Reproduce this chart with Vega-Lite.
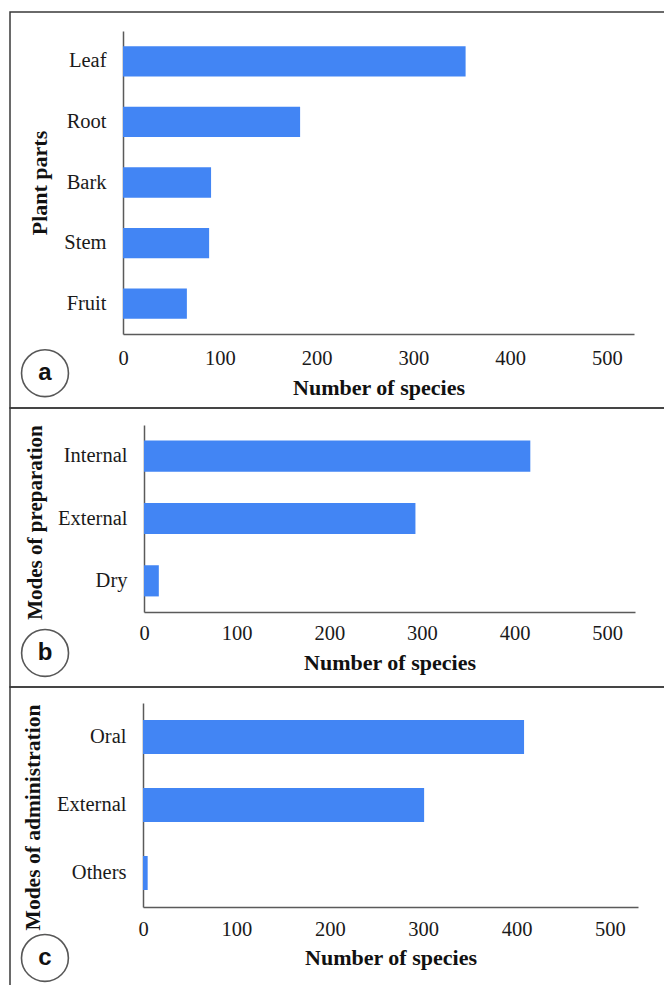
{
  "$schema": "https://vega.github.io/schema/vega-lite/v6.json",
  "padding": {"left": 9, "top": 11, "right": 0, "bottom": 0},
  "spacing": 0,
  "bounds": "flush",
  "background": "white",
  "datasets": {
    "parts": [
      {"part": "Leaf", "species": 354},
      {"part": "Root", "species": 183},
      {"part": "Bark", "species": 91},
      {"part": "Stem", "species": 89},
      {"part": "Fruit", "species": 66}
    ],
    "prep": [
      {"mode": "Internal", "species": 417},
      {"mode": "External", "species": 293},
      {"mode": "Dry", "species": 16}
    ],
    "admin": [
      {"mode": "Oral", "species": 408},
      {"mode": "External", "species": 301},
      {"mode": "Others", "species": 5}
    ],
    "tags": [{"panel": "a"}, {"panel": "b"}, {"panel": "c"}]
  },
  "config": {
    "font": "Liberation Serif",
    "axis": {
      "grid": false,
      "ticks": false,
      "tickSize": 0,
      "labelFlush": false,
      "domainColor": "#5a5a5a",
      "domainWidth": 1.5,
      "labelFont": "Liberation Serif",
      "labelFontSize": 20.5,
      "labelColor": "#1a1a1a",
      "titleFont": "Liberation Serif",
      "titleFontWeight": "bold",
      "titleFontSize": 22,
      "titleColor": "#111111"
    },
    "view": {"stroke": "#3a3a3a", "strokeWidth": 1.5}
  },
  "vconcat": [
    {
      "width": 656,
      "height": 396,
      "view": {"stroke": "#3a3a3a", "strokeWidth": 1.5},
      "layer": [
        {
          "data": {"name": "parts"},
          "mark": {"type": "bar", "color": "#4285F4"},
          "encoding": {
            "y": {"field": "part", "type": "nominal", "sort": ["Leaf", "Root", "Bark", "Stem", "Fruit"],
              "scale": {"range": [19, 322], "paddingInner": 0.5, "paddingOuter": 0.25},
              "axis": {"title": "Plant parts", "offset": -113, "labelPadding": 17, "titlePadding": 12, "titleFontSize": 22}},
            "x": {"field": "species", "type": "quantitative",
              "scale": {"domain": [0, 528], "range": [113, 624], "nice": false},
              "axis": {"title": "Number of species", "values": [0, 100, 200, 300, 400, 500], "offset": -74, "labelPadding": 14, "titlePadding": 8.5}}
          }
        },
        {
          "data": {"name": "tags"},
          "transform": [{"filter": "datum.panel == 'a'"}],
          "layer": [
            {"mark": {"type": "point", "shape": "circle", "size": 2200, "filled": true, "fill": "white", "stroke": "#111111", "strokeWidth": 1.6}},
            {"mark": {"type": "text", "font": "Liberation Sans", "fontWeight": "bold", "fontSize": 24, "color": "#111111", "baseline": "middle", "align": "center"},
              "encoding": {"text": {"field": "panel"}}}
          ],
          "encoding": {
            "x": {"datum": -80.6, "type": "quantitative"},
            "y": {"datum": 0.088, "type": "quantitative", "scale": {"domain": [0, 1], "nice": false, "zero": false}, "axis": null}
          }
        }
      ],
      "resolve": {"scale": {"y": "independent"}, "axis": {"y": "independent"}}
    },
    {
      "width": 656,
      "height": 279,
      "view": {"stroke": "#3a3a3a", "strokeWidth": 1.5},
      "layer": [
        {
          "data": {"name": "prep"},
          "mark": {"type": "bar", "color": "#4285F4"},
          "encoding": {
            "y": {"field": "mode", "type": "nominal", "sort": ["Internal", "External", "Dry"],
              "scale": {"range": [17, 204], "paddingInner": 0.5, "paddingOuter": 0.25},
              "axis": {"title": "Modes of preparation", "offset": -134, "labelPadding": 17, "titlePadding": 12, "titleFontSize": 21, "titleY": 114}},
            "x": {"field": "species", "type": "quantitative",
              "scale": {"domain": [0, 530], "range": [134, 625], "nice": false},
              "axis": {"title": "Number of species", "values": [0, 100, 200, 300, 400, 500], "offset": -75, "labelPadding": 11, "titlePadding": 8.5}}
          }
        },
        {
          "data": {"name": "tags"},
          "transform": [{"filter": "datum.panel == 'b'"}],
          "layer": [
            {"mark": {"type": "point", "shape": "circle", "size": 2200, "filled": true, "fill": "white", "stroke": "#111111", "strokeWidth": 1.6}},
            {"mark": {"type": "text", "font": "Liberation Sans", "fontWeight": "bold", "fontSize": 24, "color": "#111111", "baseline": "middle", "align": "center"},
              "encoding": {"text": {"field": "panel"}}}
          ],
          "encoding": {
            "x": {"datum": -106.8, "type": "quantitative"},
            "y": {"datum": 0.122, "type": "quantitative", "scale": {"domain": [0, 1], "nice": false, "zero": false}, "axis": null}
          }
        }
      ],
      "resolve": {"scale": {"y": "independent"}, "axis": {"y": "independent"}}
    },
    {
      "width": 656,
      "height": 300,
      "view": {"stroke": "#3a3a3a", "strokeWidth": 1.5},
      "layer": [
        {
          "data": {"name": "admin"},
          "mark": {"type": "bar", "color": "#4285F4"},
          "encoding": {
            "y": {"field": "mode", "type": "nominal", "sort": ["Oral", "External", "Others"],
              "scale": {"range": [16, 220], "paddingInner": 0.5, "paddingOuter": 0.25},
              "axis": {"title": "Modes of administration", "offset": -133, "labelPadding": 17, "titlePadding": 12, "titleFontSize": 21.5, "titleY": 130}},
            "x": {"field": "species", "type": "quantitative",
              "scale": {"domain": [0, 530], "range": [133, 628], "nice": false},
              "axis": {"title": "Number of species", "values": [0, 100, 200, 300, 400, 500], "offset": -80, "labelPadding": 12, "titlePadding": 8}}
          }
        },
        {
          "data": {"name": "tags"},
          "transform": [{"filter": "datum.panel == 'c'"}],
          "layer": [
            {"mark": {"type": "point", "shape": "circle", "size": 2200, "filled": true, "fill": "white", "stroke": "#111111", "strokeWidth": 1.6}},
            {"mark": {"type": "text", "font": "Liberation Sans", "fontWeight": "bold", "fontSize": 24, "color": "#111111", "baseline": "middle", "align": "center"},
              "encoding": {"text": {"field": "panel"}}}
          ],
          "encoding": {
            "x": {"datum": -105, "type": "quantitative"},
            "y": {"datum": 0.097, "type": "quantitative", "scale": {"domain": [0, 1], "nice": false, "zero": false}, "axis": null}
          }
        }
      ],
      "resolve": {"scale": {"y": "independent"}, "axis": {"y": "independent"}}
    }
  ]
}
